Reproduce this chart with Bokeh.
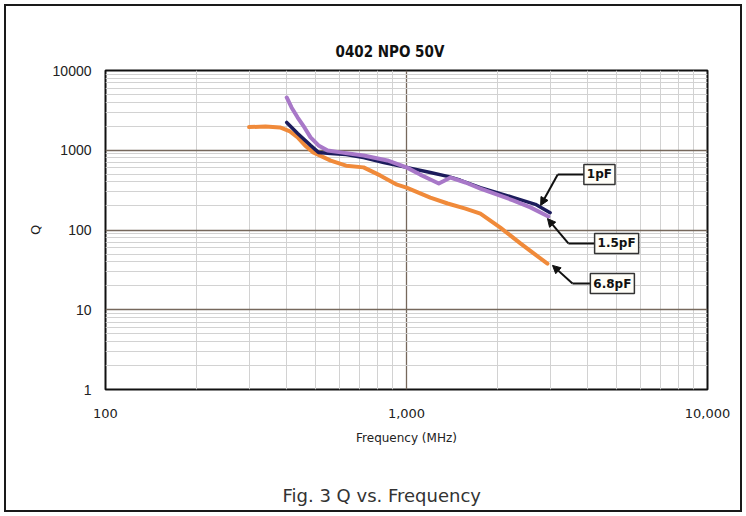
from bokeh.plotting import figure
from bokeh.models import (Range1d, FixedTicker, NumeralTickFormatter, Label, Arrow,
                          NormalHead, Title)
from bokeh.embed import file_html
from bokeh.resources import INLINE

# ---- data ----
freq_1pF = [400, 435, 480, 510, 560, 630, 720, 840, 1000, 1200, 1370, 1510, 1760, 2270, 2680, 3000]
q_1pF = [2230, 1620, 1150, 940, 910, 885, 810, 700, 610, 525, 470, 420, 340, 255, 210, 165]

freq_15pF = [400, 415, 435, 458, 480, 510, 547, 604, 720, 864, 1000, 1110, 1200, 1280, 1340, 1400,
             1570, 1760, 2270, 2580, 2960]
q_15pF = [4590, 3440, 2570, 1930, 1450, 1150, 990, 940, 860, 745, 610, 495, 430, 383, 418, 455,
          394, 331, 234, 192, 148]

freq_68pF = [300, 340, 380, 410, 435, 460, 490, 560, 630, 720, 820, 930, 1000, 1200, 1370, 1570,
             1760, 2050, 2390, 2680, 2940]
q_68pF = [1950, 1990, 1930, 1720, 1450, 1150, 940, 740, 640, 610, 480, 370, 340, 255, 215, 185,
          160, 107, 68, 49, 38]

x_major_ticks = [100, 1000, 10000]
x_minor_ticks = [200, 300, 400, 500, 600, 700, 800, 900,
                 2000, 3000, 4000, 5000, 6000, 7000, 8000, 9000]
y_major_ticks = [1, 10, 100, 1000, 10000]
y_minor_ticks = [2, 3, 4, 5, 6, 7, 8, 9,
                 20, 30, 40, 50, 60, 70, 80, 90,
                 200, 300, 400, 500, 600, 700, 800, 900,
                 2000, 3000, 4000, 5000, 6000, 7000, 8000, 9000]

# callout labels
label_text = ["1pF", "1.5pF", "6.8pF"]
label_x = [4375, 4990, 4830]
label_y = [497, 67.8, 21.3]
elbow_x = [3180, 3450, 3560]
tip_x = [2790, 2940, 3055]
tip_y = [203, 139, 36]

C_1 = "#1C1C5C"
C_15 = "#A878C8"
C_68 = "#F08A3A"

p = figure(width=746, height=516, x_axis_type="log", y_axis_type="log",
           x_range=Range1d(100, 10000), y_range=Range1d(1, 10000),
           output_backend="svg", toolbar_location=None,
           min_border_left=105, min_border_right=39, min_border_top=70, min_border_bottom=127,
           background_fill_color="white", border_fill_color=None)
# outer frame of the figure panel (drawn by CSS, visible through the transparent border fill)
p.styles = {"outline": "2px solid #1a1a1a", "outline-offset": "-6px",
            "background-color": "white"}

p.title.text = "0402 NPO 50V"
p.title.align = "left"
p.title.offset = 230
p.title.standoff = 20
p.title.text_font = "'Liberation Sans Narrow', 'DejaVu Sans Condensed', sans-serif"
p.title.text_font_size = "15px"
p.title.text_font_style = "bold"
p.title.text_color = "#111111"

p.outline_line_color = "#111111"
p.outline_line_width = 2

# axes
p.xaxis.ticker = FixedTicker(ticks=x_major_ticks, minor_ticks=x_minor_ticks)
p.yaxis.ticker = FixedTicker(ticks=y_major_ticks, minor_ticks=y_minor_ticks)
p.xaxis.formatter = NumeralTickFormatter(format="0,0")
p.yaxis.formatter = NumeralTickFormatter(format="0")
for ax in (p.xaxis[0], p.yaxis[0]):
    ax.axis_line_color = None
    ax.major_tick_line_color = None
    ax.minor_tick_line_color = None
    ax.major_label_text_color = "#222222"
    ax.axis_label_text_font_style = "normal"
    ax.axis_label_text_color = "#222222"

p.xaxis.major_label_text_font = "DejaVu Sans"
p.xaxis.major_label_text_font_size = "13px"
p.xaxis.major_label_standoff = 13
p.xaxis.axis_label = "Frequency (MHz)"
p.xaxis.axis_label_text_font = "DejaVu Sans"
p.xaxis.axis_label_text_font_size = "12px"
p.xaxis.axis_label_standoff = 10

p.yaxis.major_label_text_font = "Liberation Sans"
p.yaxis.major_label_text_font_size = "14px"
p.yaxis.major_label_standoff = 8
p.yaxis.axis_label = "Q"
p.yaxis.axis_label_text_font = "DejaVu Sans"
p.yaxis.axis_label_text_font_size = "13px"
p.yaxis.axis_label_standoff = 7

# caption below the axis (spacer + caption title)
p.add_layout(Title(text=" ", text_font_size="2px", standoff=27), "below")
p.add_layout(Title(text="Fig. 3 Q vs. Frequency", align="left", offset=177, standoff=8,
                   text_font="DejaVu Sans", text_font_size="18px", text_font_style="normal",
                   text_color="#333333"), "below")

# grids
for g in (p.xgrid[0], p.ygrid[0]):
    g.grid_line_color = "#76685c"
    g.grid_line_width = 1.3
    g.minor_grid_line_color = "#d2d2d2"
    g.minor_grid_line_width = 1

# curves
p.line(freq_68pF, q_68pF, line_color=C_68, line_width=4, line_join="round", line_cap="round")
p.line(freq_1pF, q_1pF, line_color=C_1, line_width=3.5, line_join="round", line_cap="round")
p.line(freq_15pF, q_15pF, line_color=C_15, line_width=4, line_join="round", line_cap="round")

# callouts
p.segment(x0=elbow_x, y0=label_y, x1=label_x, y1=label_y, line_color="#111111", line_width=2)
for i in range(len(label_text)):
    p.add_layout(Arrow(end=NormalHead(size=8, fill_color="#111111", line_color="#111111"),
                       x_start=elbow_x[i], y_start=label_y[i], x_end=tip_x[i], y_end=tip_y[i],
                       line_color="#111111", line_width=2))
    p.add_layout(Label(x=label_x[i], y=label_y[i], text=label_text[i],
                       text_align="center", text_baseline="middle",
                       text_font="DejaVu Sans", text_font_size="12px", text_font_style="bold",
                       text_color="#111111", background_fill_color="#fffef8",
                       border_line_color="#333333", border_line_width=1.5, padding=3))

open("out.html", "w").write(file_html(p, INLINE))
